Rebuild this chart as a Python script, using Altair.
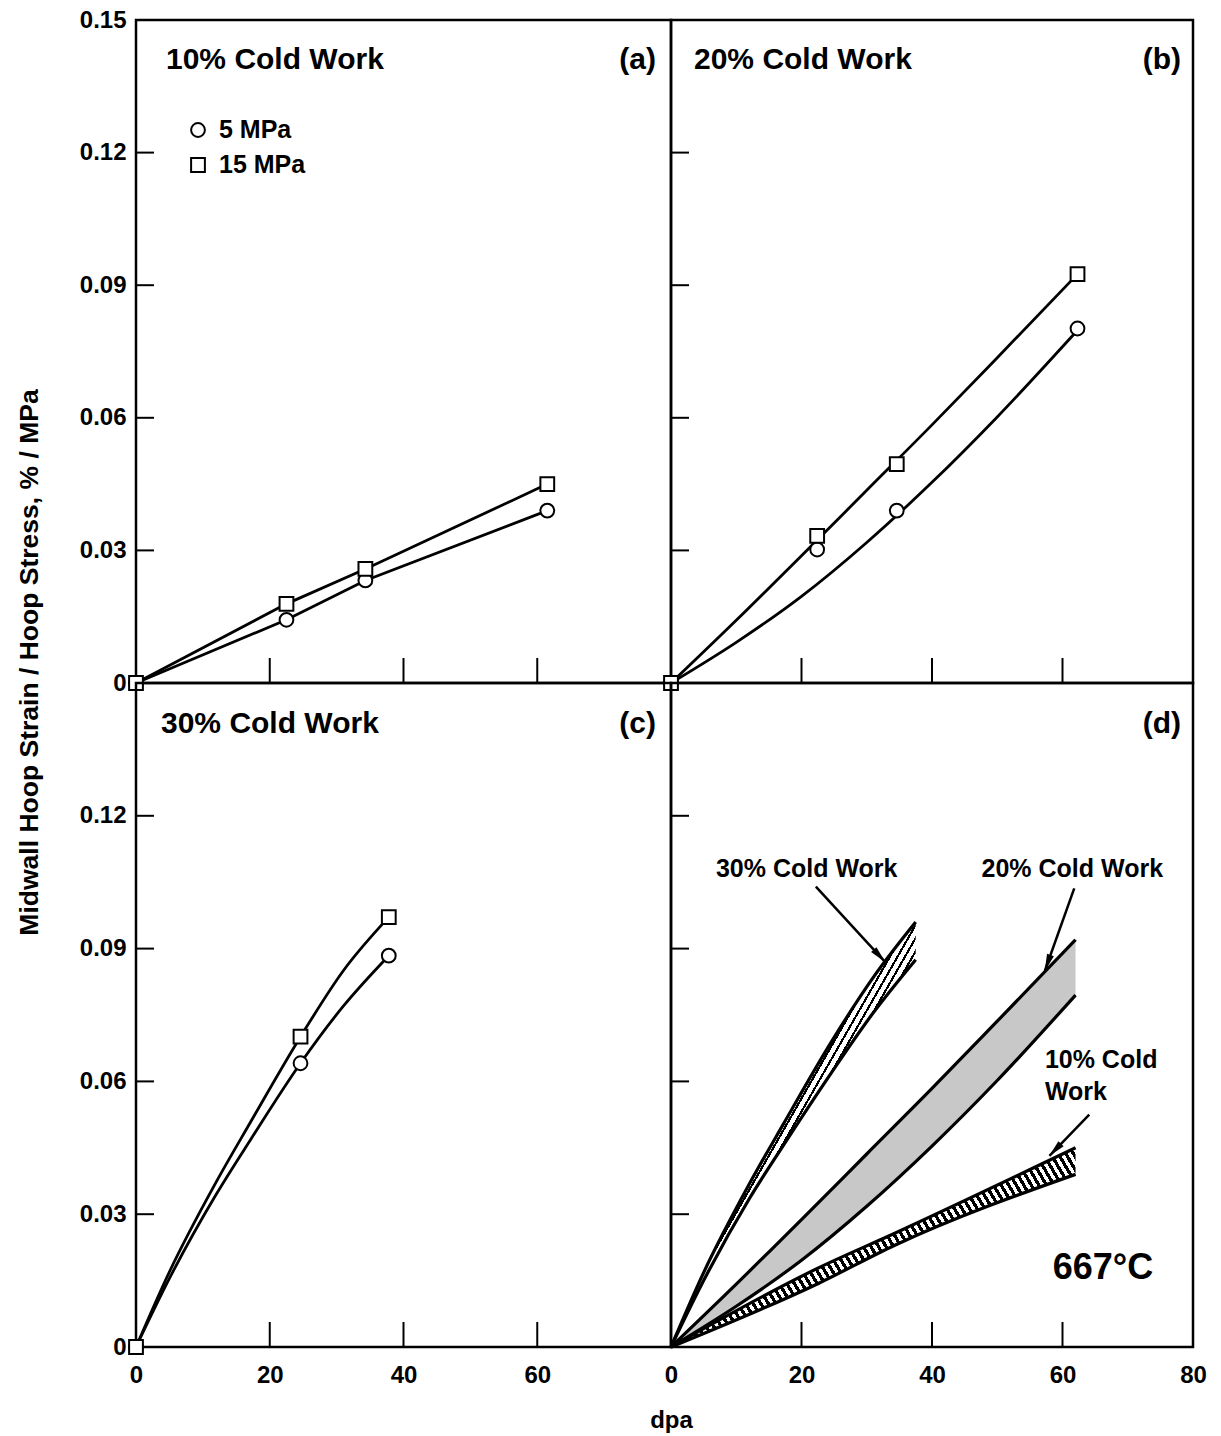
import math
import altair as alt
import pandas as pd

FONT = "Liberation Sans"

# ---------------- data ----------------
# (a) 10% cold work
a_x = [0, 22.5, 34.3, 61.5]
a_5 = [0, 0.0143, 0.0232, 0.0390]
a_15 = [0, 0.0179, 0.0258, 0.0450]

# (b) 20% cold work
b_x = [0, 22.4, 34.6, 62.3]
b_5 = [0, 0.0302, 0.0390, 0.0802]
b_15 = [0, 0.0333, 0.0495, 0.0925]
b_line_x = [0, 10, 20, 30, 40, 50, 62.3]
b_line_5 = [0, 0.0092, 0.0196, 0.0318, 0.0454, 0.0602, 0.0798]
b_line_15 = [0, 0.0142, 0.0288, 0.0436, 0.0584, 0.0736, 0.0925]

# (c) 30% cold work
c_x = [0, 24.6, 37.8]
c_5 = [0, 0.0641, 0.0884]
c_15 = [0, 0.0701, 0.0971]
c_line_x = [0, 5, 12, 17.2, 24.6, 31, 37.8]
c_line_5 = [0, 0.0155, 0.0345, 0.0470, 0.0641, 0.0770, 0.0884]
c_line_15 = [0, 0.0170, 0.0373, 0.0510, 0.0701, 0.0850, 0.0971]

# (d) bands
d30_x = [0, 5, 12, 17.2, 24.6, 31, 37.5]
d30_hi = [0, 0.0168, 0.0368, 0.0503, 0.0690, 0.0835, 0.0960]
d30_lo = [0, 0.0150, 0.0335, 0.0455, 0.0620, 0.0755, 0.0875]
d20_x = [0, 10, 20, 30, 40, 50, 62]
d20_hi = [0, 0.0142, 0.0288, 0.0436, 0.0584, 0.0736, 0.0920]
d20_lo = [0, 0.0092, 0.0196, 0.0318, 0.0454, 0.0602, 0.0795]
d10_x = [0, 22.5, 34.3, 62]
d10_hi = [0, 0.0178, 0.0257, 0.0450]
d10_lo = [0, 0.0143, 0.0230, 0.0390]

# annotations in (d): label text, label position, arrow start, arrow tip
d_labels = ["30% Cold Work", "20% Cold Work", "10% Cold", "Work"]
d_label_x = [20.8, 61.5, 57.3, 57.3]
d_label_y = [0.1080, 0.1080, 0.0648, 0.0576]
d_label_align = ["center", "center", "left", "left"]
arrow_x0 = [22.2, 61.8, 64.1]
arrow_y0 = [0.1040, 0.1036, 0.0525]
arrow_x1 = [32.8, 57.3, 58.0]
arrow_y1 = [0.0870, 0.0850, 0.0432]
temp_label = "667°C"

series = ["5 MPa", "15 MPa"]
series_shape = ["circle", "square"]
x_ticks = [20, 40, 60]
y_ticks = [0.03, 0.06, 0.09, 0.12]
YTITLE = "Midwall Hoop Strain / Hoop Stress, % / MPa"

# ---------------- layout ----------------
WL, WR = 535, 522
HT, HB = 663, 664
SX = alt.Scale(domain=[0, 80], nice=False, zero=False)
SY = alt.Scale(domain=[0, 0.15], nice=False, zero=False)
YFMT = "datum.value == 0 ? '0' : format(datum.value, '.2f')"

LBL = dict(labelFont=FONT, labelFontSize=24, labelFontWeight="bold", labelColor="black",
           ticks=False, domain=False, grid=False, labelFlush=False, labelOverlap=False)

ax_y_top = alt.Axis(values=[0, 0.03, 0.06, 0.09, 0.12, 0.15], labelExpr=YFMT, labelPadding=10,
                    title=YTITLE, titleFont=FONT, titleFontSize=26.5, titleFontWeight="bold",
                    titleColor="black", titleX=-107, titleY=642, titleAngle=270,
                    titleAlign="center", titleBaseline="middle", **LBL)
ax_y_bot = alt.Axis(values=[0, 0.03, 0.06, 0.09, 0.12], labelExpr=YFMT, labelPadding=10,
                    title=None, **LBL)
ax_x_bl = alt.Axis(values=[0, 20, 40, 60], labelPadding=16, title="dpa", titleFont=FONT,
                   titleFontSize=24, titleFontWeight="bold", titleColor="black",
                   titleX=WL, titleY=73, titleAlign="center", titleBaseline="middle", **LBL)
ax_x_br = alt.Axis(values=[0, 20, 40, 60, 80], labelPadding=16, title=None, **LBL)

SHAPE = alt.Scale(domain=series, range=series_shape)


def long_df(x, cols):
    rows = []
    for name, ys in cols.items():
        for xv, yv in zip(x, ys):
            rows.append({"x": xv, "y": yv, "p": name})
    return pd.DataFrame(rows)


def enc_xy(xa, ya, xf="x:Q", yf="y:Q"):
    return dict(x=alt.X(xf, scale=SX, axis=xa), y=alt.Y(yf, scale=SY, axis=ya))


def tick_layers(H, xa, ya):
    xt = alt.Chart(pd.DataFrame({"x": x_ticks})).mark_rule(color="black", strokeWidth=2).encode(
        x=alt.X("x:Q", scale=SX, axis=xa), y=alt.value(H), y2=alt.value(H - 25))
    yt = alt.Chart(pd.DataFrame({"y": y_ticks})).mark_rule(color="black", strokeWidth=2).encode(
        y=alt.Y("y:Q", scale=SY, axis=ya), x=alt.value(0), x2=alt.value(18))
    return [xt, yt]


def label(text, xpx, ypx, align, size=30):
    return alt.Chart(pd.DataFrame({"t": [text]})).mark_text(
        align=align, baseline="middle", font=FONT, fontSize=size, fontWeight="bold",
        color="black").encode(x=alt.value(xpx), y=alt.value(ypx), text="t:N")


def legend_layers(x0, y0, dy):
    out = []
    for i, (name, shp) in enumerate(zip(series, series_shape)):
        out.append(alt.Chart(pd.DataFrame({"t": [name]})).mark_point(
            shape=shp, filled=True, fill="white", stroke="black", strokeWidth=2, opacity=1,
            size=190).encode(x=alt.value(x0), y=alt.value(y0 + i * dy)))
        out.append(label(name, x0 + 21, y0 + i * dy, "left", size=25))
    return out


def points(df, xa, ya):
    return alt.Chart(df).mark_point(filled=True, fill="white", stroke="black",
                                    strokeWidth=2, opacity=1, size=190).encode(
        **enc_xy(xa, ya),
        shape=alt.Shape("p:N", scale=SHAPE, legend=None))


def lines(df, xa, ya, interp):
    return alt.Chart(df).mark_line(color="black", strokeWidth=2.8, interpolate=interp).encode(
        **enc_xy(xa, ya), detail="p:N")


def stripes(W, H, sx, sy, period, duty, ink, paper):
    dxn, dyn = sy / H, -sx / W
    corners = [(0, 0), (1, 0), (0, 1), (1, 1)]
    proj = [cx * dxn + cy * dyn for cx, cy in corners]
    i0 = proj.index(min(proj))
    i1 = proj.index(max(proj))
    n2 = dxn ** 2 + dyn ** 2
    s = (proj[i1] - proj[i0]) / n2
    p1 = corners[i0]
    p2 = (p1[0] + s * dxn, p1[1] + s * dyn)
    gx = dxn / W / (s * n2)
    gy = dyn / H / (s * n2)
    L = 1 / math.sqrt(gx ** 2 + gy ** 2)
    n = max(1, int(round(L / period)))
    stops = []
    for i in range(n):
        a = i / n
        b = (i + duty) / n
        c = (i + 1) / n
        stops += [alt.GradientStop(color=ink, offset=a), alt.GradientStop(color=ink, offset=b),
                  alt.GradientStop(color=paper, offset=b), alt.GradientStop(color=paper, offset=c)]
    return alt.LinearGradient(gradient="linear", stops=stops, x1=p1[0], y1=p1[1],
                              x2=p2[0], y2=p2[1])


# ---------------- panel (a) ----------------
pa_pts = long_df(a_x, {"5 MPa": a_5, "15 MPa": a_15})
pa = alt.layer(
    lines(pa_pts, None, ax_y_top, "linear"),
    points(pa_pts, None, ax_y_top),
    *tick_layers(HT, None, ax_y_top),
    label("10% Cold Work", 30, 40, "left"),
    label("(a)", WL - 15, 40, "right"),
    *legend_layers(62, 110, 35),
).properties(width=WL, height=HT)

# ---------------- panel (b) ----------------
pb_pts = long_df(b_x, {"5 MPa": b_5, "15 MPa": b_15})
pb_lin = long_df(b_line_x, {"5 MPa": b_line_5, "15 MPa": b_line_15})
pb = alt.layer(
    lines(pb_lin, None, None, "monotone"),
    points(pb_pts, None, None),
    *tick_layers(HT, None, None),
    label("20% Cold Work", 23, 40, "left"),
    label("(b)", WR - 12, 40, "right"),
).properties(width=WR, height=HT)

# ---------------- panel (c) ----------------
pc_pts = long_df(c_x, {"5 MPa": c_5, "15 MPa": c_15})
pc_lin = long_df(c_line_x, {"5 MPa": c_line_5, "15 MPa": c_line_15})
pc = alt.layer(
    lines(pc_lin, ax_x_bl, ax_y_bot, "monotone"),
    points(pc_pts, ax_x_bl, ax_y_bot),
    *tick_layers(HB, ax_x_bl, ax_y_bot),
    label("30% Cold Work", 25, 41, "left"),
    label("(c)", WL - 15, 41, "right"),
).properties(width=WL, height=HB)

# ---------------- panel (d) ----------------
def band_df(x, hi, lo):
    return pd.DataFrame({"x": x, "hi": hi, "lo": lo})


W30 = max(d30_x) / 80 * WR
H30 = max(d30_hi) / 0.15 * HB
W10 = max(d10_x) / 80 * WR
H10 = max(d10_hi) / 0.15 * HB
g30 = stripes(W30, H30, 1, -1.75, 6.5, 0.32, "black", "white")
g10 = stripes(W10, H10, 1, 1.7, 6.5, 0.5, "black", "white")


def band(df, fill):
    return alt.Chart(df).mark_area(color=fill, interpolate="monotone", opacity=1).encode(
        x=alt.X("x:Q", scale=SX, axis=ax_x_br), y=alt.Y("hi:Q", scale=SY, axis=None),
        y2="lo:Q")


d_lines = long_df(d30_x, {"30hi": d30_hi, "30lo": d30_lo})
d_lines = pd.concat([d_lines,
                     long_df(d20_x, {"20hi": d20_hi, "20lo": d20_lo}),
                     long_df(d10_x, {"10hi": d10_hi, "10lo": d10_lo})])

arrows = pd.DataFrame({"x": arrow_x0, "y": arrow_y0, "x2": arrow_x1, "y2": arrow_y1})
px_x = WR / 80
px_y = HB / 0.15
angs, hx, hy = [], [], []
for x0, y0, x1, y1 in zip(arrow_x0, arrow_y0, arrow_x1, arrow_y1):
    dxp = (x1 - x0) * px_x
    dyp = -(y1 - y0) * px_y
    ln = math.hypot(dxp, dyp)
    angs.append(math.degrees(math.atan2(dxp, -dyp)) % 360)
    f = 8 / ln
    hx.append(x1 - (x1 - x0) * f)
    hy.append(y1 - (y1 - y0) * f)
heads = pd.DataFrame({"x": hx, "y": hy, "ang": angs})

dl = pd.DataFrame({"x": d_label_x, "y": d_label_y, "t": d_labels, "al": d_label_align})

d_text_layers = []
for al in ["center", "left"]:
    d_text_layers.append(
        alt.Chart(dl[dl["al"] == al]).mark_text(align=al, baseline="middle", font=FONT,
                                                fontSize=25, fontWeight="bold",
                                                color="black").encode(
            **enc_xy(ax_x_br, None), text="t:N"))

temp = alt.Chart(pd.DataFrame({"x": [66.2], "y": [0.0179], "t": [temp_label]})).mark_text(
    align="center", baseline="middle", font=FONT, fontSize=36, fontWeight="bold",
    color="black").encode(**enc_xy(ax_x_br, None), text="t:N")

pdd = alt.layer(
    band(band_df(d30_x, d30_hi, d30_lo), g30),
    band(band_df(d20_x, d20_hi, d20_lo), "#c8c8c8"),
    band(band_df(d10_x, d10_hi, d10_lo), g10),
    alt.Chart(d_lines).mark_line(color="black", strokeWidth=3.2, interpolate="monotone").encode(
        **enc_xy(ax_x_br, None), detail="p:N"),
    alt.Chart(arrows).mark_rule(color="black", strokeWidth=2.5).encode(
        **enc_xy(ax_x_br, None), x2="x2:Q", y2="y2:Q"),
    alt.Chart(heads).mark_point(shape="M0,-1L0.42,1L-0.42,1Z", filled=True, color="black",
                                size=300, opacity=1).encode(
        **enc_xy(ax_x_br, None), angle=alt.Angle("ang:Q", scale=None)),
    *d_text_layers,
    temp,
    *tick_layers(HB, ax_x_br, None),
    label("(d)", WR - 12, 41, "right"),
).properties(width=WR, height=HB)

chart = alt.concat(pa, pb, pc, pdd, columns=2, spacing=0, bounds="flush", align="each").properties(
    padding={"left": 14, "top": 6, "right": 5, "bottom": 5}
).configure(font=FONT).configure_view(stroke="black", strokeWidth=2.5)

chart.save("out.html", embed_options={"renderer": "svg", "actions": False})
